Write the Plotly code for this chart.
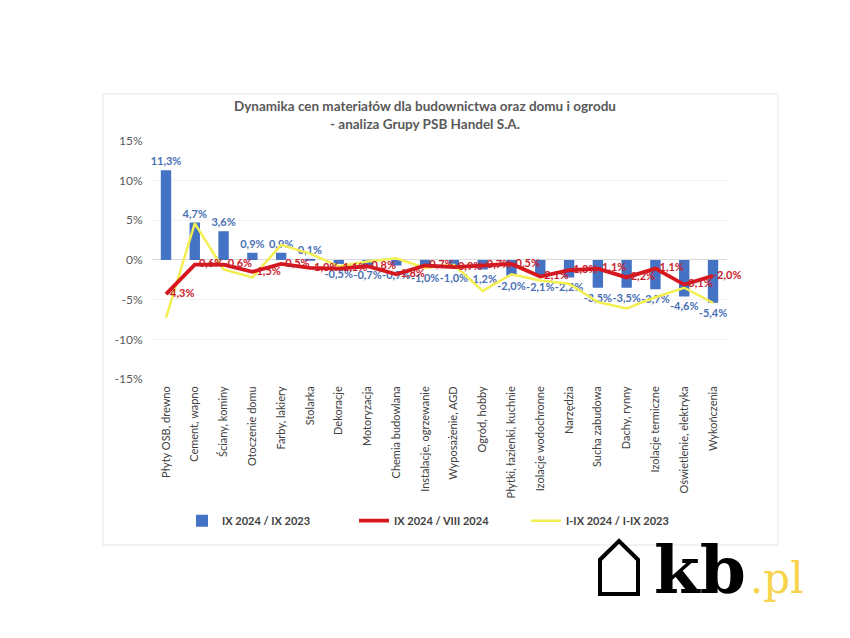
import plotly.graph_objects as go

categories = [
    "Płyty OSB, drewno", "Cement, wapno", "Ściany, kominy", "Otoczenie domu",
    "Farby, lakiery", "Stolarka", "Dekoracje", "Motoryzacja", "Chemia budowlana",
    "Instalacje, ogrzewanie", "Wyposażenie, AGD", "Ogród, hobby",
    "Płytki, łazienki, kuchnie", "Izolacje wodochronne", "Narzędzia",
    "Sucha zabudowa", "Dachy, rynny", "Izolacje termiczne",
    "Oświetlenie, elektryka", "Wykończenia",
]
ix24_vs_ix23 = [11.3, 4.7, 3.6, 0.9, 0.9, 0.1, -0.5, -0.7, -0.7, -1.0,
                -1.0, -1.2, -2.0, -2.1, -2.2, -3.5, -3.5, -3.7, -4.6, -5.4]
ix24_vs_viii24 = [-4.3, -0.6, -0.6, -1.5, -0.5, -1.0, -1.1, -0.8, -1.8, -0.7,
                  -0.9, -0.7, -0.5, -2.1, -1.3, -1.1, -2.2, -1.1, -3.1, -2.0]
iix24_vs_iix23 = [-7.3, 4.6, -1.2, -2.2, 1.9, 0.8, -0.8, -0.2, 0.2, -1.0,
                  -0.6, -3.9, -1.8, -2.6, -3.0, -5.3, -6.1, -4.7, -3.5, -5.4]
y_tick_values = [-15, -10, -5, 0, 5, 10, 15]
y_tick_labels = ["-15%", "-10%", "-5%", "0%", "5%", "10%", "15%"]
series_names = ["IX 2024 / IX 2023", "IX 2024 / VIII 2024", "I-IX 2024 / I-IX 2023"]
title_text = "Dynamika cen materiałów dla budownictwa oraz domu i ogrodu<br>- analiza Grupy PSB Handel S.A."


def pct(v):
    return f"{v:.1f}%".replace(".", ",")


W, H = 850, 638


def px(x):
    return x / W


def py(y):
    return 1 - y / H


FONT = "Lato, 'Open Sans', sans-serif"

fig = go.Figure()
fig.add_trace(go.Bar(
    x=categories, y=ix24_vs_ix23, name=series_names[0],
    marker=dict(color="#4472C4", line=dict(width=0)),
    text=[pct(v) for v in ix24_vs_ix23], textposition="outside",
    constraintext="none",
    textfont=dict(color="#4a6fb5", size=11, family=FONT, weight="bold"),
    cliponaxis=False, legendrank=1,
))
fig.add_trace(go.Scatter(
    x=categories, y=iix24_vs_iix23, name=series_names[2], mode="lines",
    line=dict(color="#f4ef50", width=2.5), legendrank=3,
))
fig.add_trace(go.Scatter(
    x=categories, y=ix24_vs_viii24, name=series_names[1], mode="lines+text",
    text=[pct(v) for v in ix24_vs_viii24], textposition="middle right",
    textfont=dict(color="#c8202a", size=11, family=FONT, weight="bold"),
    line=dict(color="#d7161d", width=3.8), cliponaxis=False, legendrank=2,
))

fig.update_layout(
    width=W, height=H, autosize=False,
    margin=dict(l=0, r=0, t=0, b=0),
    paper_bgcolor="white", plot_bgcolor="white",
    font=dict(family=FONT, color="#595959"),
    bargap=0.64,
    showlegend=True,
    legend=dict(orientation="h", x=px(182), y=py(525), xanchor="left", yanchor="middle",
                entrywidth=127, entrywidthmode="pixels",
                font=dict(size=11, color="#404040", family=FONT, weight="bold"),
                bgcolor="rgba(0,0,0,0)"),
    xaxis=dict(domain=[px(151.6), px(727.4)], range=[-0.5, len(categories) - 0.5],
               autorange=False, tickangle=-90, showgrid=False,
               showline=False, ticks="", ticklabelstandoff=4,
               tickfont=dict(size=11, color="#404040", family=FONT)),
    yaxis=dict(domain=[py(380), py(136)], range=[-15, 15], autorange=False,
               tickvals=y_tick_values,
               ticktext=y_tick_labels, showgrid=True, gridcolor="#f3f3f3",
               zeroline=True, zerolinecolor="#d9d9d9", zerolinewidth=1,
               ticks="", ticklabelstandoff=8,
               tickfont=dict(size=12, color="#595959", family=FONT)),
    shapes=[
        dict(type="rect", xref="paper", yref="paper", x0=px(103), x1=px(778),
             y0=py(550), y1=py(88), line=dict(color="#e6e6e6", width=1),
             fillcolor="rgba(0,0,0,0)", layer="below"),
        dict(type="path", xref="paper", yref="paper",
             path=(f"M {px(600)},{py(600)} L {px(600)},{py(565)} L {px(619)},{py(546)} "
                   f"L {px(638)},{py(565)} L {px(638)},{py(600)} Z"),
             line=dict(color="black", width=4), fillcolor="white"),
    ],
    annotations=[
        dict(text=title_text, xref="paper", yref="paper", x=px(425), y=py(110),
             xanchor="center", yanchor="middle", showarrow=False,
             font=dict(size=13.5, color="#595959", family=FONT, weight="bold")),
        dict(text="<b>kb</b>", xref="paper", yref="paper", x=px(652), y=py(576),
             xanchor="left", yanchor="middle", showarrow=False,
             font=dict(size=66, color="black", family="DejaVu Serif")),
        dict(text=".pl", xref="paper", yref="paper", x=px(748), y=py(584),
             xanchor="left", yanchor="middle", showarrow=False,
             font=dict(size=42, color="#f7d44c", family="DejaVu Serif")),
    ],
)

fig.write_html("out.html", config={"displayModeBar": False},
               post_script="document.body.style.margin='0';document.body.style.overflow='hidden';")
